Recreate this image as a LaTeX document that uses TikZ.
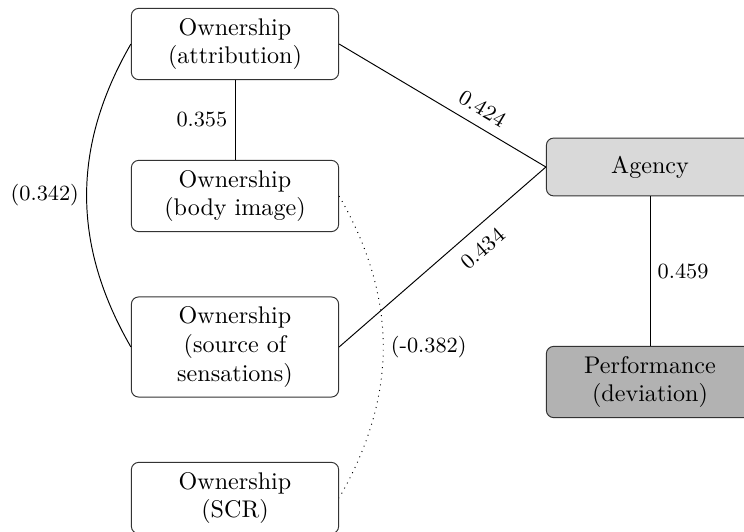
\documentclass[tikz,border=0pt]{standalone}
\usetikzlibrary{positioning}
\begin{document}
\begin{tikzpicture}[x=0.415pt,y=-0.415pt,
  ownbox/.style={draw=black!80,rounded corners=3pt,align=center,minimum width=86pt,minimum height=24pt,inner sep=4pt},
  coef/.style={font=\small,inner sep=3pt}]
\clip (0,0) rectangle (744,532);
\node[ownbox] (att) at (235,44) {Ownership\\(attribution)};
\node[ownbox] (body) at (235,196) {Ownership\\(body image)};
\node[ownbox] (src) at (235,347) {Ownership\\(source of\\sensations)};
\node[ownbox] (scr) at (235,498) {Ownership\\(SCR)};
\node[ownbox,fill=black!15] (agency) at (650,167) {Agency};
\node[ownbox,fill=black!30] (perf) at (650,382) {Performance\\(deviation)};
\draw (att) -- node[coef,left] {0.355} (body);
\draw (att.east) -- node[coef,pos=0.65,sloped,above=1pt] {0.424} (agency.west);
\draw (src.east) -- node[coef,pos=0.63,sloped,below=2pt] {0.434} (agency.west);
\draw (agency) -- node[coef,right] {0.459} (perf);
\draw (att.west) to[bend right=30] node[coef,left] {(0.342)} (src.west);
\draw[dotted] (body.east) to[bend left=30] node[coef,right] {(-0.382)} (scr.east);
\end{tikzpicture}
\end{document}
